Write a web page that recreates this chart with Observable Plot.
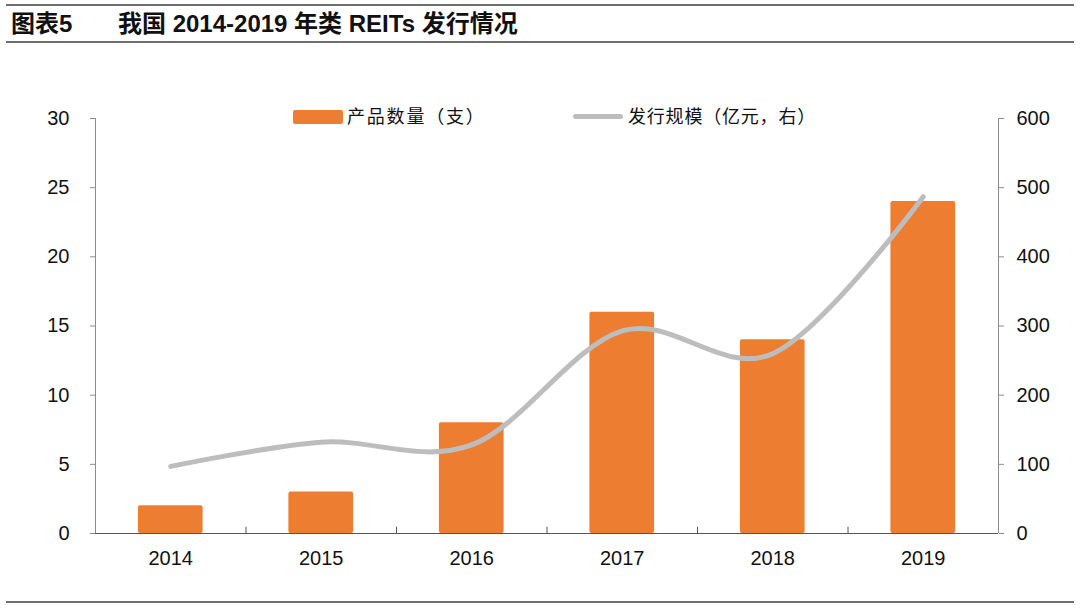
<!DOCTYPE html>
<html>
<head>
<meta charset="utf-8">
<script src="https://cdn.jsdelivr.net/npm/d3@7"></script>
<script src="https://cdn.jsdelivr.net/npm/@observablehq/plot@0.6"></script>
<style>
  html, body { margin: 0; padding: 0; background: #fff; }
  #page { position: relative; width: 1080px; height: 608px; overflow: hidden; font-family: "Liberation Sans", "Noto Sans CJK SC", sans-serif; }
  .hline { position: absolute; left: 6px; width: 1068px; height: 2px; background: #6e6e6e; }
  #title { position: absolute; top: 8px; left: 11px; font-family: "Liberation Sans", "Noto Sans CJK SC", sans-serif; font-weight: bold; font-size: 24px; line-height: 32px; color: #111; white-space: nowrap; }
  #title span.t2 { position: absolute; left: 107px; }
  #chart { position: absolute; left: 0; top: 0; }
  .leg { position: absolute; top: 104px; font-family: "Noto Sans CJK SC", sans-serif; font-size: 18px; color: #111; white-space: nowrap; line-height: 22px; }
  .sw { display: inline-block; vertical-align: middle; }
</style>
</head>
<body>
<div id="page">
  <div class="hline" style="top:4px"></div>
  <div id="title"><span>图表5</span><span class="t2">我国 2014-2019 年类 REITs 发行情况</span></div>
  <div class="hline" style="top:41px"></div>
  <div id="chart"></div>
  <div class="leg" style="left:293px"><span class="sw" style="width:50px;height:14px;background:#ED7D31;border-radius:2px;margin-right:4px;margin-top:-3px"></span><span style="letter-spacing:1.8px">产品数量（支）</span></div>
  <div class="leg" style="left:573px"><span class="sw" style="width:50px;height:5px;background:#BDBDBD;border-radius:3px;margin-right:5px;margin-top:-3px"></span><span style="letter-spacing:0.8px">发行规模（亿元，右）</span></div>
  <div class="hline" style="top:601px"></div>
</div>
<script>
const years = ["2014", "2015", "2016", "2017", "2018", "2019"];
const counts = [2, 3, 8, 16, 14, 24];          // 产品数量（支）, left axis
const amounts = [97, 132, 128, 293, 260, 487];  // 发行规模（亿元）, right axis
const leftTicks = [0, 5, 10, 15, 20, 25, 30];
const rightTicks = [0, 100, 200, 300, 400, 500, 600];

const ratio = 600 / 30;
const rows = years.map((y, i) => ({i, year: y, count: counts[i], amount: amounts[i]}));
const halfBar = 0.215;
const bounds = years.slice(1).map((_, i) => i + 0.5);

const chart = Plot.plot({
  width: 1080,
  height: 608,
  marginLeft: 95,
  marginRight: 82,
  marginTop: 118,
  marginBottom: 75,
  style: {fontFamily: "Liberation Sans, Noto Sans CJK SC, sans-serif", fontSize: "20px", color: "#111", background: "transparent"},
  x: {type: "linear", domain: [-0.5, 5.5]},
  y: {domain: [0, 30]},
  marks: [
    Plot.rect(rows, {x1: d => d.i - halfBar, x2: d => d.i + halfBar, y1: 0, y2: "count", fill: "#ED7D31", rx: 2}),
    Plot.line(rows, {x: "i", y: d => d.amount / ratio, stroke: "#BDBDBD", strokeWidth: 5, curve: "cardinal", strokeLinecap: "round"}),
    Plot.ruleX([-0.5], {stroke: "#8c8c8c", strokeWidth: 1}),
    Plot.ruleX([5.5], {stroke: "#8c8c8c", strokeWidth: 1}),
    Plot.ruleY([0], {stroke: "#555", strokeWidth: 1}),
    Plot.ruleX(bounds, {x: d => d, y1: 0, y2: 0.45, stroke: "#555", strokeWidth: 1}),
    Plot.axisY({anchor: "left", ticks: leftTicks, tickSize: 5, tickPadding: 21, stroke: "#8c8c8c", label: null, fill: "#111"}),
    Plot.axisY({anchor: "right", ticks: rightTicks.map(v => v / ratio), tickFormat: v => String(Math.round(v * ratio)), tickSize: 5, tickPadding: 13, stroke: "#8c8c8c", label: null, fill: "#111"}),
    Plot.axisX({ticks: d3.range(years.length), tickFormat: i => years[i], tickSize: 0, tickPadding: 17, label: null, fill: "#111"})
  ]
});
document.getElementById("chart").appendChild(chart);
</script>
</body>
</html>
